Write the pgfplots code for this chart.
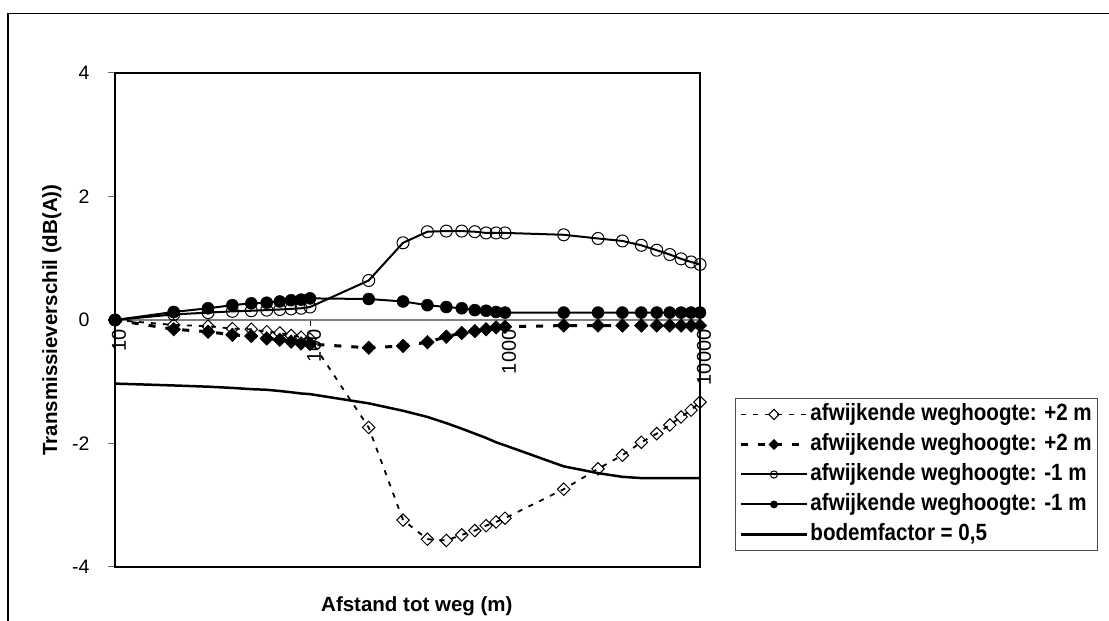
\documentclass[border=0pt]{standalone}
\usepackage{fontspec}
\setmainfont{Liberation Sans}
\newfontfamily\legendfont{Liberation Sans}[FakeStretch=0.875]
\usepackage{pgfplots}
\pgfplotsset{compat=1.18}
\usepackage{pgfplotstable}

\pgfplotstableread{
x od fd oc fc bf
10 0 0 0 0 -1.03
20 -0.08 -0.15 0.09 0.13 -1.06
30 -0.10 -0.19 0.12 0.19 -1.08
40 -0.14 -0.24 0.14 0.24 -1.10
50 -0.15 -0.26 0.15 0.27 -1.12
60 -0.19 -0.30 0.16 0.28 -1.13
70 -0.21 -0.32 0.17 0.30 -1.15
80 -0.25 -0.35 0.18 0.32 -1.17
90 -0.28 -0.38 0.19 0.33 -1.19
100 -0.31 -0.39 0.21 0.35 -1.20
200 -1.74 -0.45 0.64 0.34 -1.35
300 -3.24 -0.42 1.25 0.30 -1.47
400 -3.55 -0.36 1.43 0.24 -1.57
500 -3.57 -0.27 1.44 0.21 -1.67
600 -3.48 -0.21 1.44 0.19 -1.76
700 -3.41 -0.18 1.43 0.16 -1.84
800 -3.33 -0.15 1.41 0.15 -1.91
900 -3.27 -0.12 1.41 0.13 -1.98
1000 -3.21 -0.11 1.41 0.12 -2.03
2000 -2.74 -0.09 1.38 0.12 -2.37
3000 -2.41 -0.09 1.32 0.12 -2.48
4000 -2.19 -0.09 1.28 0.12 -2.54
5000 -1.98 -0.09 1.21 0.12 -2.56
6000 -1.84 -0.09 1.13 0.12 -2.56
7000 -1.70 -0.09 1.06 0.12 -2.56
8000 -1.57 -0.09 0.99 0.12 -2.56
9000 -1.46 -0.09 0.94 0.12 -2.56
10000 -1.33 -0.09 0.90 0.12 -2.56
}\data

\begin{document}
\begin{tikzpicture}
\useasboundingbox (0,0) rectangle (1109pt,621pt);
\draw[line width=1.5pt] (8pt,-20pt) -- (8pt,607.5pt) -- (1130pt,607.5pt);
\begin{axis}[
  at={(115pt,54pt)}, anchor=south west, scale only axis,
  width=585pt, height=494pt,
  xmode=log, xmin=10, xmax=10000, ymin=-4, ymax=4,
  axis x line*=middle, axis y line=none,
  x axis line style={black!50, line width=1.5pt},
  xtick={10,100,1000,10000},
  xticklabels={\mbox{10},\mbox{100},\mbox{1000},\mbox{10000}},
  minor xtick={}, xminorticks=false,
  xtick align=outside, major tick length=6pt,
  xtick style={black, line width=1pt},
  every x tick label/.style={rotate=90, anchor=east, yshift=-4pt, font=\fontsize{20}{24}\selectfont},
  ytick=\empty,
]
\end{axis}
\begin{axis}[
  at={(115pt,54pt)}, anchor=south west, scale only axis,
  width=585pt, height=494pt,
  xmode=log, xmin=10, xmax=10000, ymin=-4, ymax=4,
  xtick=\empty, minor xtick={}, xminorticks=false,
  ytick={-4,-2,0,2,4},
  yticklabels={\mbox{-4},\mbox{-2},\mbox{0},\mbox{2},\mbox{4}},
  ytick pos=left, ytick align=outside, major tick length=7pt,
  ytick style={black!60, line width=1pt},
  axis line style={line width=1.5pt},
  clip=false,
  yticklabel style={anchor=east, xshift=-15pt, font=\fontsize{19.5}{23}\selectfont},
  ylabel={Transmissieverschil (dB(A))},
  xlabel={Afstand tot weg (m)},
  ylabel style={at={(axis description cs:-0.108,0.5)}, anchor=center, font=\fontsize{20.5}{24}\selectfont\bfseries},
  xlabel style={at={(axis description cs:0.516,-0.079)}, anchor=center, font=\fontsize{20.5}{24}\selectfont\bfseries},
  legend style={at={(1.0598,0.0324)}, anchor=south west, draw=black!70, line width=1pt,
    font=\legendfont\fontsize{23.5}{27}\selectfont\bfseries, row sep=4pt, inner xsep=4pt, inner ysep=3pt,
    nodes={inner sep=2pt, text height=17pt, text depth=5pt}},
  legend cell align=left,
  legend image code/.code={\draw[mark repeat=2,mark phase=2,#1,mark size=3.6pt] plot coordinates {(0pt,0pt) (33pt,0pt) (66pt,0pt)};},
]
\addplot[black, line width=1.8pt, dash pattern=on 5pt off 7pt, mark=square, mark size=4.4pt, mark options={solid, rotate=45, line width=1pt}] table[x=x,y=od] {\data};
\addlegendentry{afwijkende weghoogte: +2 m}
\addplot[black, line width=3pt, dash pattern=on 7pt off 10pt, mark=square*, mark size=4.8pt, mark options={solid, rotate=45, line width=0.5pt}] table[x=x,y=fd] {\data};
\addlegendentry{afwijkende weghoogte: +2 m}
\addplot[black, line width=2pt, mark=o, mark size=6pt, mark options={line width=1pt}] table[x=x,y=oc] {\data};
\addlegendentry{afwijkende weghoogte: -1 m}
\addplot[black, line width=2pt, mark=*, mark size=6pt, mark options={line width=0.5pt}] table[x=x,y=fc] {\data};
\addlegendentry{afwijkende weghoogte: -1 m}
\addplot[black, line width=2.5pt, no marks] table[x=x,y=bf] {\data};
\addlegendentry{bodemfactor = 0,5}
\end{axis}
\end{tikzpicture}
\end{document}
